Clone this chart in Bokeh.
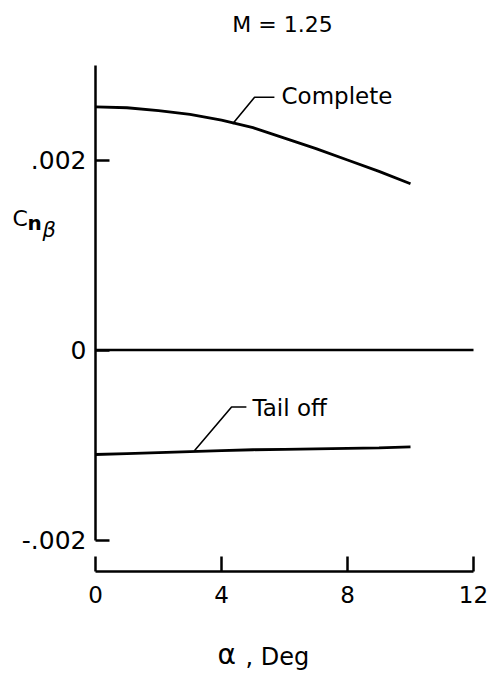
from bokeh.plotting import figure
from bokeh.models import Range1d, FixedTicker, CustomJSTickFormatter, Label
from bokeh.embed import file_html
from bokeh.resources import INLINE

# ---- data ----
alpha = [0, 1, 2, 3, 4, 5, 6, 7, 8, 9, 10]
complete = [0.00256, 0.00255, 0.00252, 0.00248, 0.00242, 0.00234, 0.00223, 0.00212, 0.00200, 0.00188, 0.00175]
tail_off = [-0.00110, -0.00109, -0.00108, -0.00107, -0.00106, -0.00105, -0.001045, -0.00104, -0.001035, -0.00103, -0.00102]
zero_x = [0, 12]
zero_y = [0, 0]
x_ticks = [0, 4, 8, 12]
y_ticks = [-0.002, 0, 0.002]
title_text = "M = 1.25"
series_labels = ["Complete", "Tail off"]
# leader lines (x, y) for the labels
lead_complete_x = [4.35, 5.05, 5.68]
lead_complete_y = [0.00238, 0.00266, 0.00266]
lead_tail_x = [3.14, 4.32, 4.79]
lead_tail_y = [-0.00106, -0.00060, -0.00060]

FONT = "DejaVu Sans"
W, H = 488, 673
X0_PX, XSCALE = 95.0, 31.5        # pixel of x=0, px per degree
Y0_PX, YSCALE = 349.5, 95000.0    # pixel of y=0, px per unit

p = figure(width=W, height=H, output_backend="svg", toolbar_location=None,
           x_range=Range1d(-X0_PX / XSCALE, (W - X0_PX) / XSCALE),
           y_range=Range1d(-(H - Y0_PX) / YSCALE, Y0_PX / YSCALE),
           min_border_left=0, min_border_right=0, min_border_top=0, min_border_bottom=0)
p.title.visible = False
p.grid.visible = False
p.outline_line_color = None
p.background_fill_color = "white"
p.border_fill_color = "white"

# axes (drawn at fixed locations inside the frame)
xa = p.xaxis[0]
xa.fixed_location = -0.002332
xa.ticker = FixedTicker(ticks=x_ticks)
xa.bounds = (0, 12)
xa.major_tick_in = 15
xa.major_tick_out = 0
xa.minor_tick_line_color = None
xa.axis_line_width = 2.5
xa.major_tick_line_width = 2.5
xa.major_label_text_font = FONT
xa.major_label_text_font_size = "23px"
xa.major_label_text_color = "black"
xa.major_label_standoff = 14

ya = p.yaxis[0]
ya.fixed_location = 0
ya.ticker = FixedTicker(ticks=y_ticks)
ya.bounds = (-0.002, 0.003)
ya.major_tick_in = 14
ya.major_tick_out = 0
ya.minor_tick_line_color = None
ya.axis_line_width = 2.5
ya.major_tick_line_width = 2.5
ya.major_label_text_font = FONT
ya.major_label_text_font_size = "25px"
ya.major_label_text_color = "black"
ya.major_label_standoff = 9
ya.formatter = CustomJSTickFormatter(code="""
if (Math.abs(tick) < 1e-12) return "0";
var s = Math.abs(tick).toFixed(3).replace(/^0/, "");
return (tick < 0 ? "-" : "") + s;
""")

# curves
p.line(zero_x, zero_y, line_color="black", line_width=2.5)
p.line(alpha, complete, line_color="black", line_width=2.8)
p.line(alpha, tail_off, line_color="black", line_width=2.8)
p.line(lead_complete_x, lead_complete_y, line_color="black", line_width=1.6)
p.line(lead_tail_x, lead_tail_y, line_color="black", line_width=1.6)

def lab(x, y, text, size, align="left", style="normal"):
    p.add_layout(Label(x=x, y=y, text=text, text_font=FONT, text_font_size=size,
                       text_align=align, text_baseline="middle", text_color="black",
                       text_font_style=style))

def px_x(px):
    return (px - X0_PX) / XSCALE

def px_y(py):
    return (Y0_PX - py) / YSCALE

lab(px_x(281), px_y(95), series_labels[0], "23px")
lab(px_x(252), px_y(407), series_labels[1], "23px")
lab(px_x(282), px_y(24), title_text, "22px", align="center")

# y-axis label  C n beta
lab(px_x(12), px_y(218), "C", "22px")
lab(px_x(27), px_y(222), "n", "20px", style="bold")
lab(px_x(42), px_y(229), "β", "21px", style="italic")

# x-axis label  alpha, Deg
lab(px_x(217), px_y(654), "α", "28px")
lab(px_x(245), px_y(656), ", Deg", "24px")

open("out.html", "w").write(file_html(p, INLINE))
